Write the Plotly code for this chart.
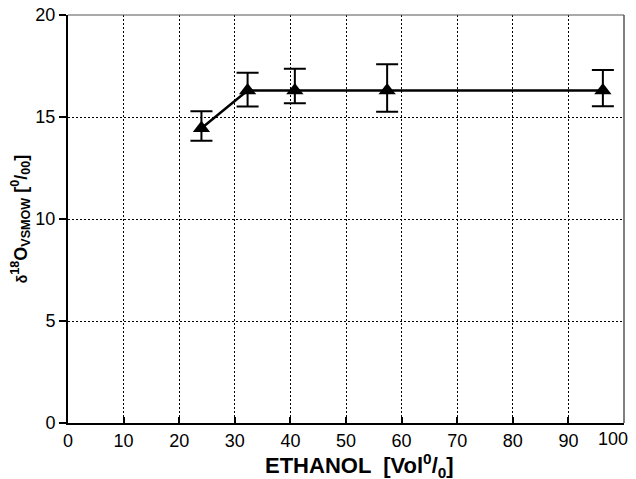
import plotly.graph_objects as go

# data
ethanol = [24, 32.3, 40.8, 57.4, 96.2]
delta18o = [14.45, 16.3, 16.3, 16.3, 16.3]
err_plus = [0.83, 0.87, 1.06, 1.28, 1.01]
err_minus = [0.61, 0.79, 0.63, 1.04, 0.77]

x_ticks = list(range(0, 101, 10))
x_labels = [str(v) for v in x_ticks]
y_ticks = [0, 5, 10, 15, 20]

fig = go.Figure()
fig.add_trace(go.Scatter(
    x=ethanol, y=delta18o, mode="lines+markers",
    line=dict(color="black", width=2.5),
    marker=dict(symbol="triangle-up", size=15, color="black"),
    error_y=dict(type="data", symmetric=False, array=err_plus, arrayminus=err_minus,
                 color="black", thickness=2, width=11),
    showlegend=False,
))

# page body has an 8px margin, so the figure is a bit smaller than the window
fig.update_layout(
    width=628, height=471,
    plot_bgcolor="white", paper_bgcolor="white",
    margin=dict(l=60, r=12, t=7, b=56),
    font=dict(family="Liberation Sans, Arial, sans-serif", color="black"),
    xaxis=dict(
        range=[0, 100], tickvals=x_ticks[:-1], ticktext=x_labels[:-1],
        ticks="inside", ticklen=6, tickwidth=2,
        tickcolor="black", tickfont=dict(size=18),
        showline=True, linecolor="black", linewidth=2,
        showgrid=True, gridcolor="black", gridwidth=1, griddash="2px,2px",
        zeroline=False, automargin=False,
    ),
    yaxis=dict(
        range=[0, 20], tickvals=y_ticks, ticks="outside", ticklen=7, tickwidth=2,
        tickcolor="black", tickfont=dict(size=18), ticklabeloverflow="allow",
        showline=True, linecolor="black", linewidth=2,
        showgrid=True, gridcolor="black", gridwidth=1, griddash="2px,2px",
        zeroline=False, automargin=False,
        title=dict(text="<b><span style='font-size:14px'>δ</span><sup>18</sup>O"
                        "<sub>VSMOW</sub> [<sup>0</sup>/<sub>00</sub>]</b>",
                   font=dict(size=18), standoff=5),
    ),
    shapes=[
        dict(type="line", xref="paper", yref="paper", x0=0, x1=1, y0=1, y1=1,
             line=dict(color="#555555", width=1)),
        dict(type="line", xref="paper", yref="paper", x0=1, x1=1, y0=0, y1=1,
             line=dict(color="#555555", width=1.5)),
    ],
    annotations=[
        # last tick label sits a little left of its tick, as in the original
        dict(x=x_ticks[-1], y=0, xref="x", yref="paper", text=x_labels[-1],
             showarrow=False, xanchor="right", yanchor="top",
             xshift=6, yshift=-4, font=dict(size=18)),
        # x axis title
        dict(x=0.525, y=0, xref="paper", yref="paper",
             text="<b>ETHANOL  [Vol<sup>0</sup>/<sub>0</sub>]</b>",
             showarrow=False, xanchor="center", yanchor="middle",
             yshift=-42, font=dict(size=22)),
    ],
)

fig.write_html("out.html")
